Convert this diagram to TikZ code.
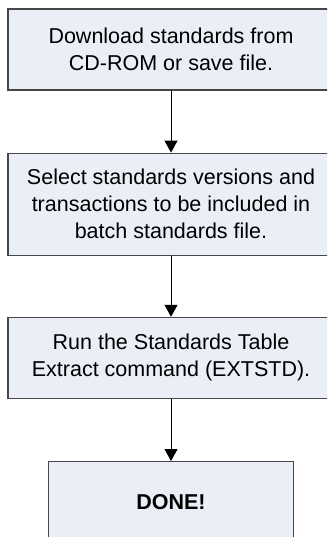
\documentclass[tikz,border=0pt]{standalone}
\usepackage{fontspec}
\setmainfont{Liberation Sans}
\usetikzlibrary{positioning, arrows.meta}
\definecolor{boxFill}{RGB}{233,238,247}
\definecolor{boxLine}{RGB}{70,70,70}
\tikzstyle{stepBox} = [draw=boxLine, fill=boxFill, line width=1.2pt, align=center, inner sep=0pt, font=\fontsize{21.5}{27}\selectfont]
\tikzstyle{stepArrow} = [line width=1pt, -{Triangle[width=13pt, length=12pt]}]

\begin{document}
\begin{tikzpicture}[x=1pt, y=1pt, node distance=61pt]
        \useasboundingbox (0,0) rectangle (327,-537);
        \clip (0,0) rectangle (327,-537);
        \node [stepBox, minimum width=326pt, minimum height=81pt] (download) at (171,-49.5) {Download standards from\\CD-ROM or save file.};
        \node [stepBox, minimum width=326pt, minimum height=102pt, below=62pt of download] (select) {Select standards versions and\\transactions to be included in\\batch standards file.};
        \node [stepBox, minimum width=326pt, minimum height=81pt, below=61pt of select] (extract) {Run the Standards Table\\Extract command (EXTSTD).};
        \node [stepBox, minimum width=245pt, minimum height=81pt, below=62pt of extract] (done) {\textbf{DONE!}};

        \draw [stepArrow] (download) -- (select);
        \draw [stepArrow] (select) -- (extract);
        \draw [stepArrow] (extract) -- (done);
      \end{tikzpicture}
\end{document}
